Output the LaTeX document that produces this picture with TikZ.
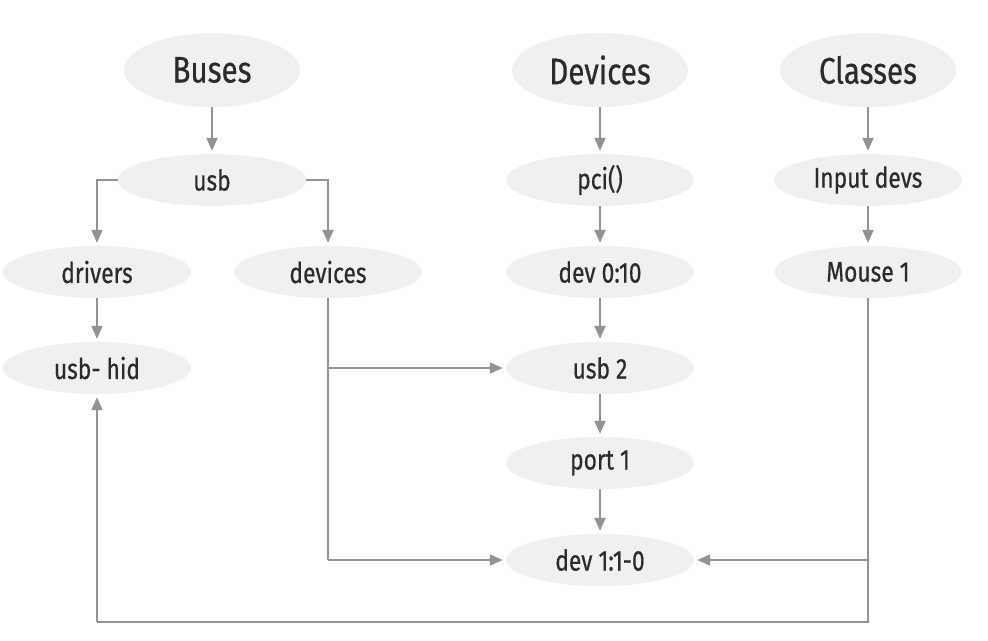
\documentclass[tikz,border=0pt]{standalone}
\usepackage{fontspec}
\setmainfont[FakeStretch=0.8,FakeBold=0.5]{Fira Sans}
\usetikzlibrary{shapes.geometric,arrows.meta}
\definecolor{ellfill}{HTML}{F0F0F0}
\definecolor{linegray}{HTML}{939393}
\definecolor{txt}{HTML}{2B2B2B}
\tikzset{
  bignode/.style={ellipse, fill=ellfill, draw=none, minimum width=176pt, minimum height=74pt, inner sep=0pt, text=txt, font=\fontsize{37}{39}\selectfont},
  smallnode/.style={ellipse, fill=ellfill, draw=none, minimum width=188pt, minimum height=52pt, inner sep=0pt, text=txt, font=\fontsize{28.5}{30}\selectfont},
  conn/.style={draw=linegray, line width=2pt},
  arr/.style={conn, -{Triangle[length=13pt,width=11pt]}, shorten >=3pt}
}
\begin{document}
\begin{tikzpicture}[x=1pt,y=-1pt]
\useasboundingbox (0,0) rectangle (988,640);
\node[bignode] (buses) at (212,70) {Buses};
\node[bignode] (devs) at (600,70) {Devices};
\node[bignode] (classes) at (868,70) {Classes};
\node[smallnode] (usb) at (212,180) {usb};
\node[smallnode] (pci) at (600,180) {pci()};
\node[smallnode] (input) at (868,180) {Input devs};
\node[smallnode] (drivers) at (97,272) {drivers};
\node[smallnode] (devices) at (328,272) {devices};
\node[smallnode] (dev010) at (600,272) {dev 0:10};
\node[smallnode] (mouse) at (868,272) {Mouse 1};
\node[smallnode] (usbhid) at (97,368) {usb- hid};
\node[smallnode] (usb2) at (600,368) {usb 2};
\node[smallnode] (port1) at (600,463) {port 1};
\node[smallnode] (dev110) at (600,560) {dev 1:1-0};
\coordinate (bl) at (97,622);
\coordinate (br) at (868,622);
\coordinate (brm) at (868,560);
\coordinate (dvb) at (328,560);
\coordinate (dvm) at (328,368);
% vertical chains
\draw[arr] (buses) -- (usb);
\draw[arr] (devs) -- (pci);
\draw[arr] (pci) -- (dev010);
\draw[arr] (dev010) -- (usb2);
\draw[arr] (usb2) -- (port1);
\draw[arr] (port1) -- (dev110);
\draw[arr] (classes) -- (input);
\draw[arr] (input) -- (mouse);
\draw[arr] (drivers) -- (usbhid);
% usb branches
\draw[arr] (usb.west) -| (drivers.north);
\draw[arr] (usb.east) -| (devices.north);
% devices links
\draw[conn] (devices.south) -- (dvb);
\draw[arr] (dvm) -- (usb2.west);
\draw[arr] (dvb) -- (dev110.west);
% mouse loop
\draw[conn] (mouse.south) -- (br) -- (bl);
\draw[arr] (bl) -- (usbhid.south);
\draw[arr] (brm) -- (dev110.east);
\end{tikzpicture}
\end{document}
